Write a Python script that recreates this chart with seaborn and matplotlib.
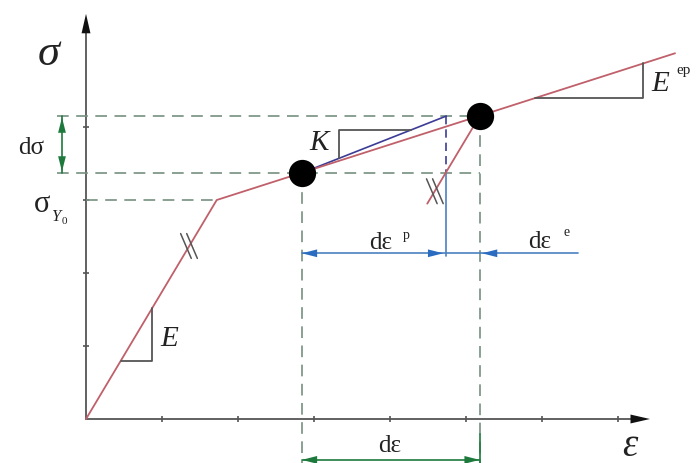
import matplotlib
matplotlib.use("Agg")
import matplotlib.pyplot as plt
import seaborn as sns

# schematic data (strain units = one tick, stress units = one tick)
curve_eps = [0.0, 1.72, 7.75]
curve_sig = [0.0, 3.00, 5.01]
state_eps = [2.84, 5.18]          # current state A and next state B
state_sig = [3.37, 4.15]
unload_eps = [5.18, 4.49]
unload_sig = [4.15, 2.95]
k_eps = [2.84, 4.74]
k_sig = [3.37, 4.15]
x_ticks = [1, 2, 3, 4, 5, 6, 7]
y_ticks = [1, 2, 3, 4]
yield_sig = 3.0
yield_eps = 1.72
dim_y = 2.27
dim_end = 6.47
deps_y = -0.56
dsig_x = -0.316

RED = "#c0606a"
KBLUE = "#3c3c96"
BLUE = "#4a80c0"
GREEN = "#1d7a3c"
DASH = "#74907f"
AXC = "#555555"

sns.set_theme(style="white")
plt.rcParams["font.family"] = ["Liberation Serif", "DejaVu Serif"]

fig = plt.figure(figsize=(6.97, 4.64), dpi=100)
ax = fig.add_axes([0, 0, 1, 1])
ax.set_xlim(-1.1316, 8.039)
ax.set_ylim(-0.6027, 5.7534)
ax.axis("off")

# axes with arrows
ax.plot([0, 7.3], [0, 0], color=AXC, lw=1.3)
ax.plot([0, 0], [0, 5.4], color=AXC, lw=1.3)
ax.annotate("", xy=(7.42, 0), xytext=(7.1, 0),
            arrowprops=dict(arrowstyle="-|>,head_length=0.7,head_width=0.16",
                            mutation_scale=20, color="#111111", lw=0, shrinkA=0, shrinkB=0))
ax.annotate("", xy=(0, 5.55), xytext=(0, 5.2),
            arrowprops=dict(arrowstyle="-|>,head_length=0.7,head_width=0.16",
                            mutation_scale=20, color="#111111", lw=0, shrinkA=0, shrinkB=0))
ax.plot(x_ticks, [0] * len(x_ticks), ls="none", marker="|", ms=5, mew=1.2, color=AXC)
ax.plot([0] * len(y_ticks), y_ticks, ls="none", marker="_", ms=5, mew=1.2, color=AXC)

# dashed guide lines
dash = dict(color=DASH, lw=1.2, ls=(0, (7, 4.5)))
ax.plot([-0.38, state_eps[1]], [state_sig[1]] * 2, **dash)
ax.plot([-0.38, state_eps[1]], [state_sig[0]] * 2, **dash)
ax.plot([0, yield_eps], [yield_sig] * 2, **dash)
ax.plot([state_eps[0]] * 2, [state_sig[0], -0.61], **dash)
ax.plot([state_eps[1]] * 2, [state_sig[1], -0.61], **dash)

# K line and plastic strain marker
ax.plot(k_eps, k_sig, color=KBLUE, lw=1.2)
ax.plot([k_eps[1]] * 2, [k_sig[1], k_sig[0]], color=KBLUE, lw=1.2, ls=(0, (5, 3)))
ax.plot([k_eps[1]] * 2, [k_sig[0], 2.23], color=BLUE, lw=1.2)

# stress-strain curve
sns.lineplot(x=curve_eps, y=curve_sig, ax=ax, color=RED, lw=1.3, sort=False)
ax.plot(unload_eps, unload_sig, color=RED, lw=1.3)

# slope triangles
tri = dict(color=AXC, lw=1.3)
ax.plot([0.46, 0.87, 0.87], [0.80, 0.80, 1.52], **tri)
ax.plot([3.33, 3.33, 4.28], [3.57, 3.96, 3.96], **tri)
ax.plot([5.91, 7.33, 7.33], [4.40, 4.40, 4.87], **tri)

# hatch marks
for cx, cy in [(1.355, 2.37), (4.59, 3.12)]:
    for off in (-0.04, 0.04):
        ax.plot([cx + off - 0.07, cx + off + 0.07], [cy + 0.17, cy - 0.17], color=AXC, lw=1.1)

# state points
sns.scatterplot(x=state_eps, y=state_sig, ax=ax, s=330, color="black", edgecolor="black", zorder=5)

# dimension arrows
def head(tip, tail, color):
    ax.annotate("", xy=tip, xytext=tail,
                arrowprops=dict(arrowstyle="-|>,head_length=0.55,head_width=0.14",
                                mutation_scale=20, color=color, lw=0, shrinkA=0, shrinkB=0))

ax.plot([state_eps[0], dim_end], [dim_y] * 2, color=BLUE, lw=1.2)
head((state_eps[0], dim_y), (state_eps[0] + 0.3, dim_y), "#2a6cc0")
head((k_eps[1] - 0.04, dim_y), (k_eps[1] - 0.34, dim_y), "#2a6cc0")
head((state_eps[1] + 0.03, dim_y), (state_eps[1] + 0.33, dim_y), "#2a6cc0")

ax.plot([state_eps[0], state_eps[1]], [deps_y] * 2, color=GREEN, lw=1.2)
head((state_eps[0], deps_y), (state_eps[0] + 0.3, deps_y), GREEN)
head((state_eps[1], deps_y), (state_eps[1] - 0.3, deps_y), GREEN)
ax.plot([state_eps[1]] * 2, [-0.2, -0.61], color=GREEN, lw=1.2)

ax.plot([dsig_x] * 2, [state_sig[0], state_sig[1]], color=GREEN, lw=1.2)
head((dsig_x, state_sig[1] - 0.02), (dsig_x, state_sig[1] - 0.32), GREEN)
head((dsig_x, state_sig[0] + 0.02), (dsig_x, state_sig[0] + 0.32), GREEN)

# labels
txt = dict(ha="center", va="center", color="#222222")
ax.text(-0.487, 5.02, "σ", fontsize=32, style="italic", **txt)
ax.text(-0.724, 3.73, "dσ", fontsize=18, **txt)
ax.text(-0.58, 2.95, "σ", fontsize=22, **txt)
ax.text(-0.40, 2.78, "Y", fontsize=12, style="italic", **txt)
ax.text(-0.285, 2.72, "0", fontsize=8, **txt)
ax.text(3.07, 3.79, "K", fontsize=21, style="italic", **txt)
ax.text(1.09, 1.11, "E", fontsize=21, style="italic", **txt)
ax.text(7.56, 4.60, "E", fontsize=21, style="italic", **txt)
ax.text(7.86, 4.79, "ep", fontsize=11, **txt)
ax.text(3.87, 2.42, "dε", fontsize=18, **txt)
ax.text(4.22, 2.53, "p", fontsize=10, **txt)
ax.text(5.97, 2.44, "dε", fontsize=18, **txt)
ax.text(6.32, 2.57, "e", fontsize=10, **txt)
ax.text(4.0, -0.35, "dε", fontsize=18, **txt)
ax.text(7.16, -0.36, "ε", fontsize=28, style="italic", **txt)

fig.savefig("out.png", dpi=100)
